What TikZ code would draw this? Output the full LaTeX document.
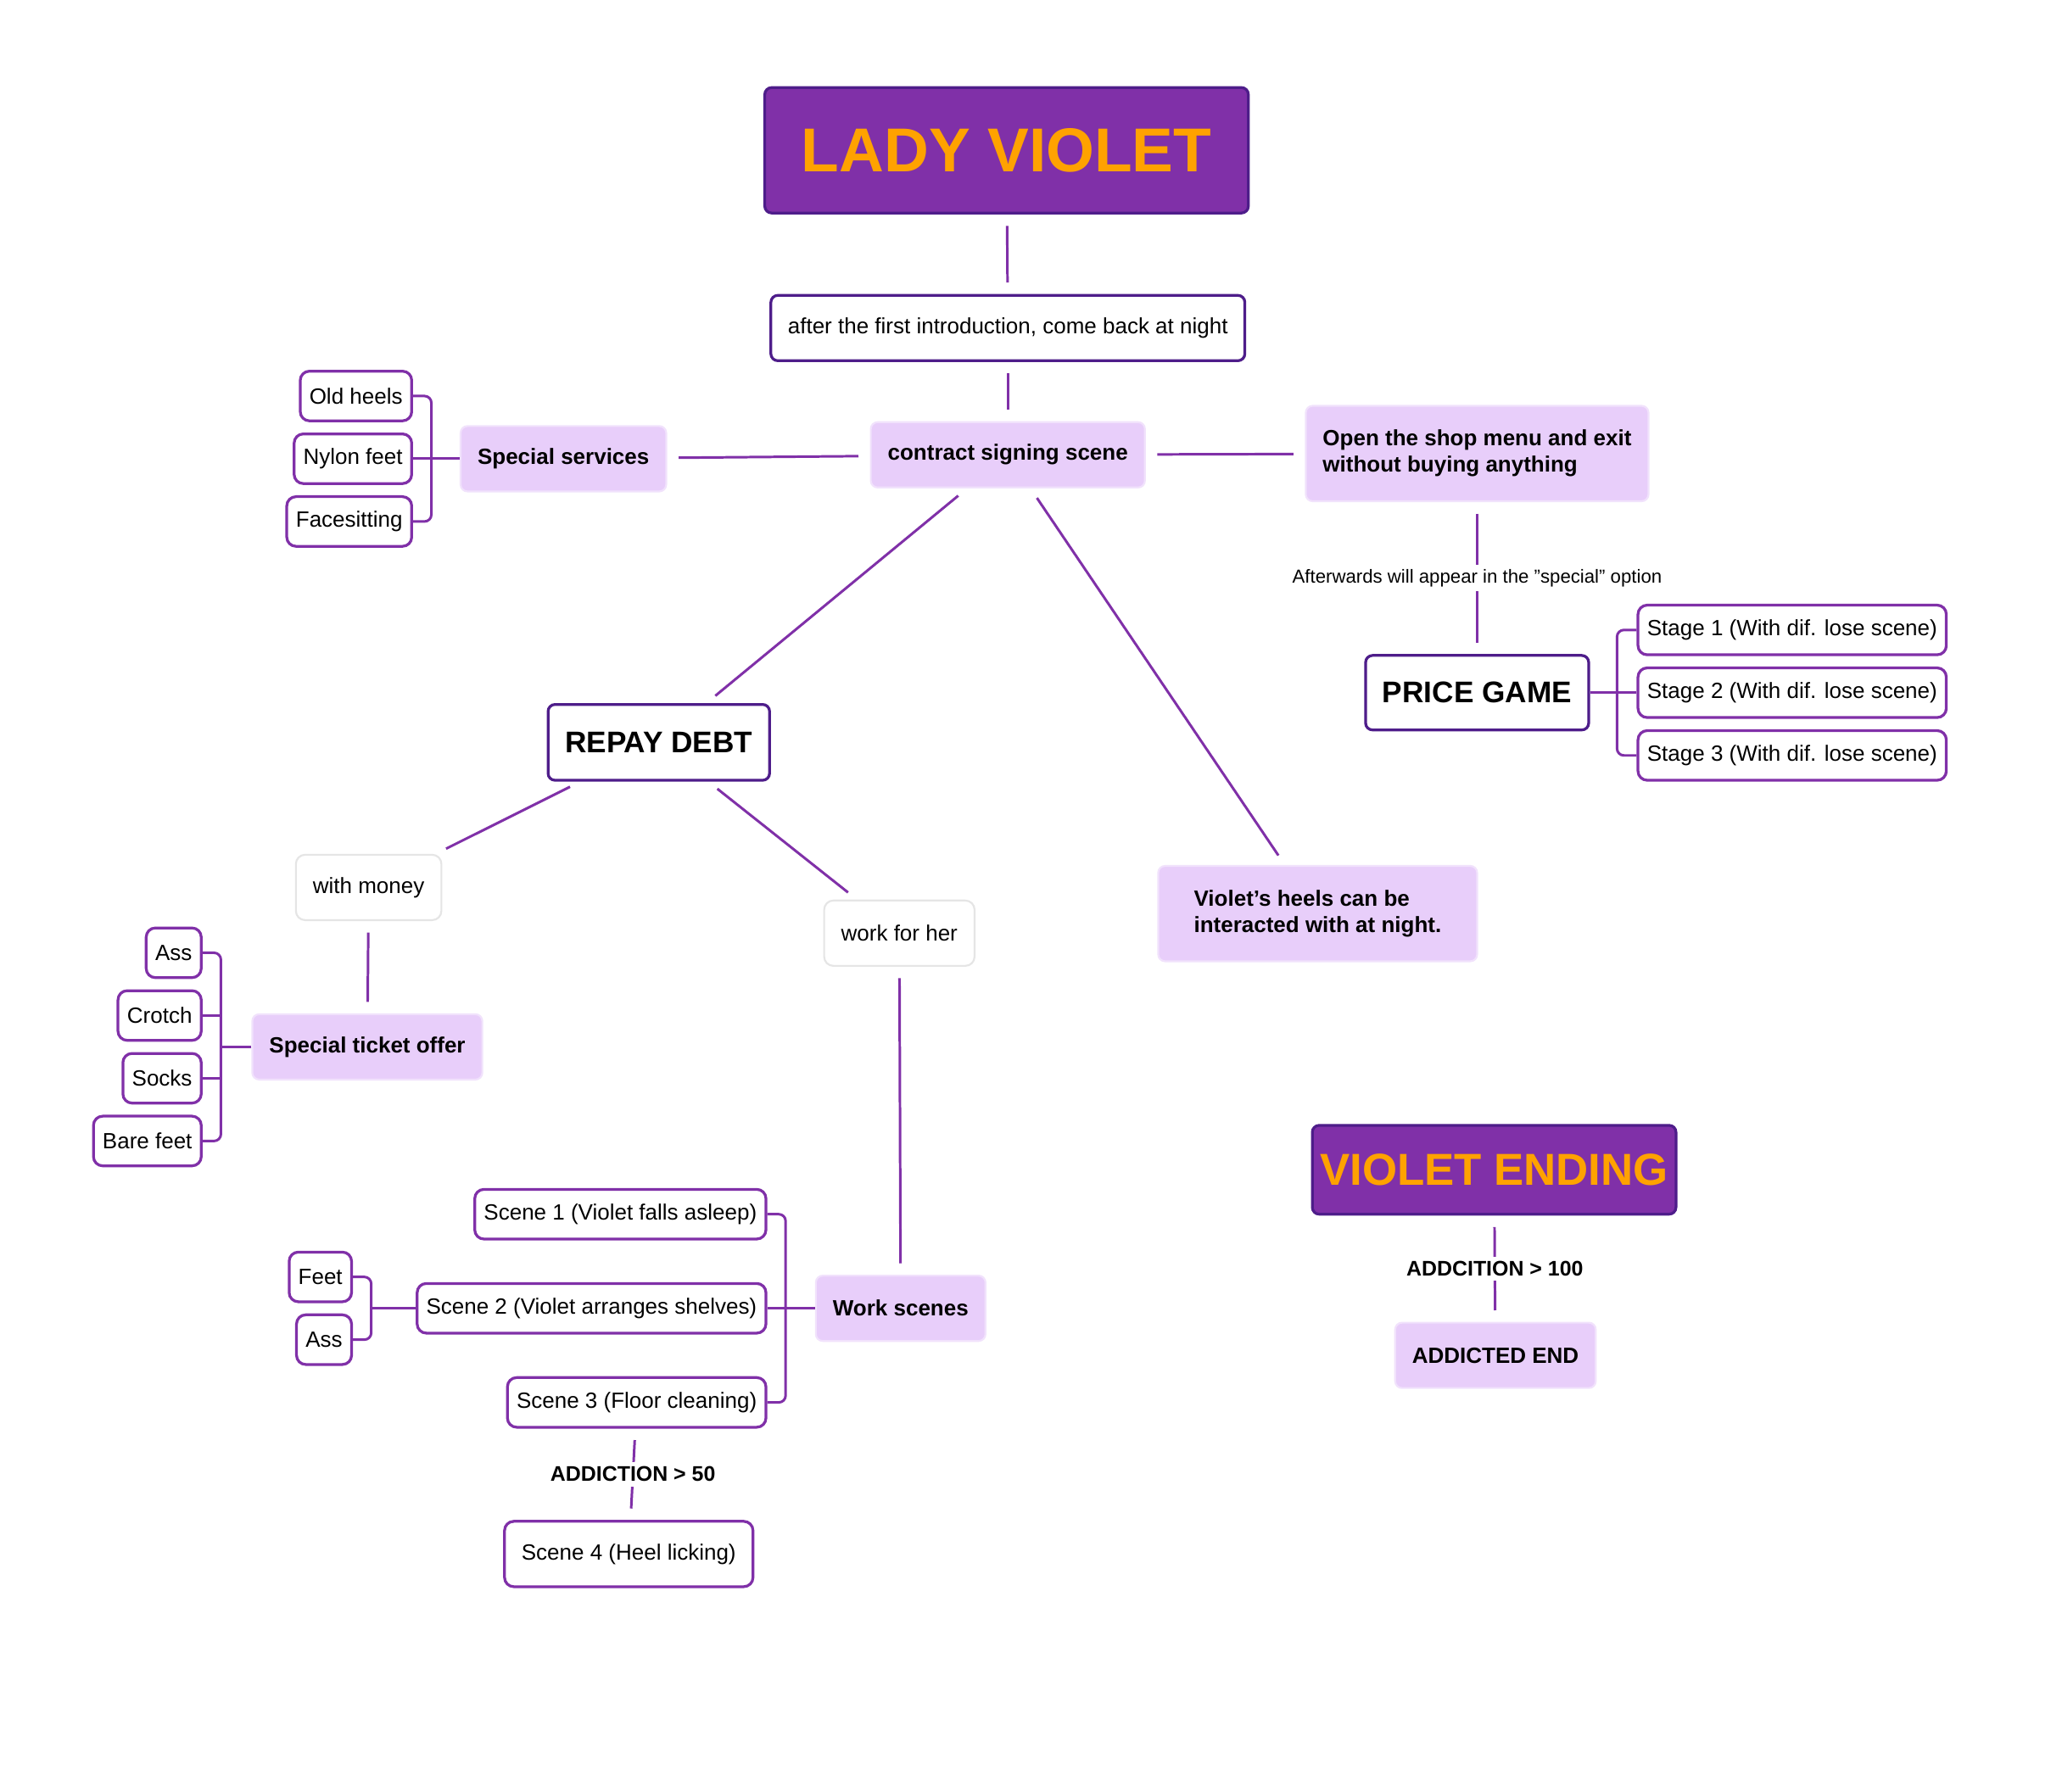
\documentclass[tikz,border=0pt]{standalone}
\usepackage{fontspec}
\setmainfont{Liberation Sans}
\usetikzlibrary{arrows,backgrounds}
\definecolor{vio}{HTML}{8030A8}
\definecolor{vioDark}{HTML}{4E1D8A}
\definecolor{lav}{HTML}{E8CEFA}
\definecolor{lavEdge}{HTML}{F1E2FC}
\definecolor{orng}{HTML}{FFA200}
\begin{document}
\begin{tikzpicture}[x=0.02cm,y=-0.02cm]
\tikzstyle{title} = [rectangle, draw=vioDark, very thick, fill=vio, text=orng,
rounded corners=3pt, font=\bfseries]
\tikzstyle{topic} = [rectangle, draw=lavEdge, thick, fill=lav, rounded corners=3pt,
font=\fontsize{9.6}{11.5}\selectfont\bfseries, minimum height=1cm, inner xsep=0.26cm]
\tikzstyle{main} = [rectangle, draw=vioDark, very thick, fill=white, rounded corners=3pt,
font=\fontsize{13}{16}\selectfont\bfseries, inner xsep=0.26cm]
\tikzstyle{leaf} = [rectangle, draw=vio, very thick, fill=white, rounded corners=4pt,
font=\fontsize{9.6}{11.5}\selectfont, minimum height=0.76cm, inner xsep=0.14cm]
\tikzstyle{soft} = [rectangle, draw=black!10, thick, fill=white, rounded corners=4pt,
font=\fontsize{9.6}{11.5}\selectfont, minimum height=1cm, inner xsep=0.26cm]
\tikzstyle{note} = [font=\fontsize{8.2}{10}\selectfont, fill=white, inner sep=2pt]
\tikzstyle{line} = [draw=vio, line width=1.1pt, shorten >=5pt, shorten <=5pt]
\tikzstyle{branch} = [draw=vio, line width=1.1pt, rounded corners=3pt]
\fill[white] (0,0) rectangle (1569,1371);

% top
\node [title, minimum width=7.4cm, minimum height=1.92cm, font=\fontsize{27}{32}\selectfont\bfseries] (lady) at (770,115) {LADY VIOLET};
\node [main, font=\fontsize{9.6}{11.5}\selectfont, minimum height=1cm] (intro) at (771,251) {after the first introduction, come back at night};
\node [topic] (contract) at (771,348) {contract signing scene};
\node [topic] (services) at (431,351) {Special services};
\node [topic, align=left, minimum height=1.46cm] (shop) at (1130,347) {Open the shop menu and exit\\without buying anything};

% special services
\node [leaf, anchor=east] (oldheels) at (316,303) {Old heels};
\node [leaf, anchor=east] (nylon) at (316,351) {Nylon feet};
\node [leaf, anchor=east] (facesit) at (316,399) {Facesitting};

% price game
\node [main, minimum height=1.14cm] (price) at (1130,530) {PRICE GAME};
\node [leaf, anchor=west] (stageA) at (1252,482) {Stage 1 (With dif. lose scene)};
\node [leaf, anchor=west] (stageB) at (1252,530) {Stage 2 (With dif. lose scene)};
\node [leaf, anchor=west] (stageC) at (1252,578) {Stage 3 (With dif. lose scene)};

% repay debt
\node [main, minimum height=1.16cm] (repay) at (504,568) {REPAY DEBT};
\node [soft] (money) at (282,679) {with money};
\node [soft] (work) at (688,714) {work for her};
\node [topic, align=left, minimum height=1.46cm, minimum width=4.88cm] (heels) at (1008,699) {Violet's heels can be\\interacted with at night.};
\node [topic] (ticket) at (281,801) {Special ticket offer};
\node [leaf, anchor=east] (tAss) at (155,729) {Ass};
\node [leaf, anchor=east] (tCrotch) at (155,777) {Crotch};
\node [leaf, anchor=east] (tSocks) at (155,825) {Socks};
\node [leaf, anchor=east] (tBare) at (155,873) {Bare feet};

% work scenes
\node [topic] (scenes) at (689,1001) {Work scenes};
\node [leaf, anchor=east] (sceneA) at (587,929) {Scene 1 (Violet falls asleep)};
\node [leaf, anchor=east] (sceneB) at (587,1001) {Scene 2 (Violet arranges shelves)};
\node [leaf, anchor=east] (sceneC) at (587,1073) {Scene 3 (Floor cleaning)};
\node [leaf, anchor=east] (sFeet) at (270,977) {Feet};
\node [leaf, anchor=east] (sAss) at (270,1025) {Ass};
\node [leaf, minimum height=1cm, inner xsep=0.26cm] (sceneD) at (481,1189) {Scene 4 (Heel licking)};

% ending
\node [title, minimum width=5.4cm, minimum height=1.36cm, font=\fontsize{19.5}{23}\selectfont\bfseries] (ending) at (1143,895) {VIOLET ENDING};
\node [topic] (addicted) at (1144,1037) {ADDICTED END};

% connectors
\path [line] (lady) -- (intro);
\path [line] (intro) -- (contract);
\path [line] (contract) -- (services);
\path [line] (contract) -- (shop);
\path [line] (shop) -- node [note] {Afterwards will appear in the "special" option} (price);
\path [line] (contract) -- (repay);
\path [line] (contract) -- (heels);
\path [line] (repay) -- (money);
\path [line] (repay) -- (work);
\path [line] (money) -- (ticket);
\path [line] (work) -- (scenes);
\path [line] (sceneC) -- node [note, font=\fontsize{9.2}{11}\selectfont\bfseries] {ADDICTION > 50} (sceneD);
\path [line] (ending) -- node [note, font=\fontsize{9.2}{11}\selectfont\bfseries] {ADDCITION > 100} (addicted);

% brackets
\path [branch] (services.west) -- (nylon.east);
\path [branch] (oldheels.east) -| (330,351) |- (facesit.east);
\path [branch] (price.east) -- (stageB.west);
\path [branch] (stageA.west) -| (1237,530) |- (stageC.west);
\path [branch] (ticket.west) -- (169,801);
\path [branch] (tAss.east) -| (169,801) |- (tBare.east);
\path [branch] (tCrotch.east) -- (169,777);
\path [branch] (tSocks.east) -- (169,825);
\path [branch] (scenes.west) -- (sceneB.east);
\path [branch] (sceneA.east) -| (601,1001) |- (sceneC.east);
\path [branch] (sceneB.west) -- (284,1001);
\path [branch] (sFeet.east) -| (284,1001) |- (sAss.east);
\end{tikzpicture}
\end{document}
